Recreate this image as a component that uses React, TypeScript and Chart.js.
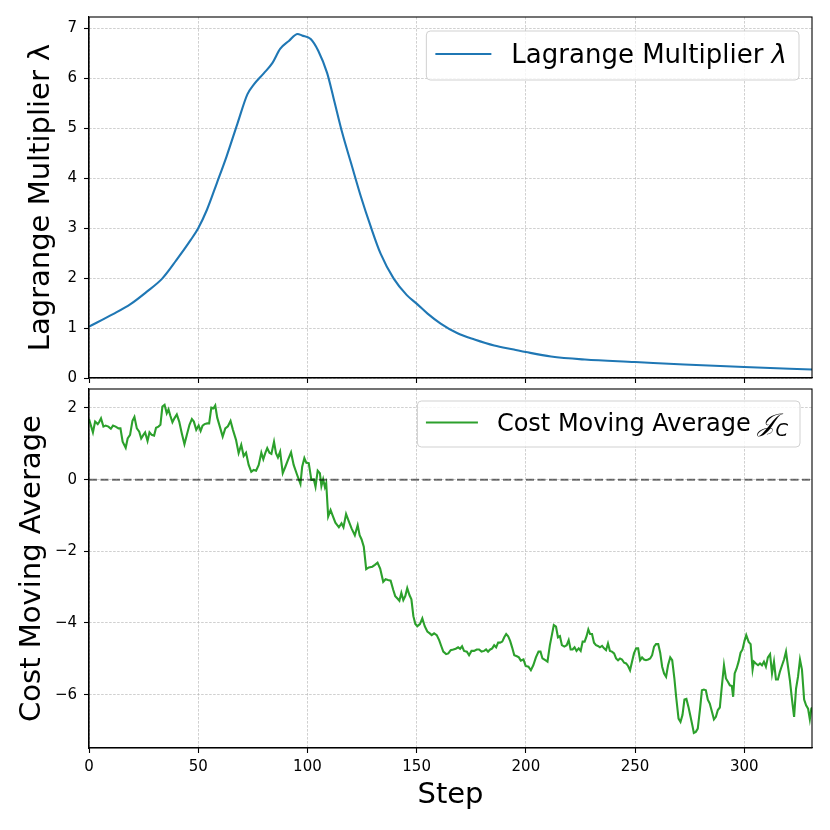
import { useEffect, useRef } from 'react';
import { Chart, registerables } from 'chart.js';

Chart.register(...registerables);

// ---- data ----
const LAMBDA_STEPS = [0, 11, 19, 26.5, 33.5, 40, 46.5, 50, 54, 58.5, 63, 68, 72.5, 75.5, 80, 84, 87.5, 91.5, 95.5, 97.5, 101.5, 105, 109, 112, 116, 120, 124.5, 129, 133.5, 139.5, 145.5, 150, 155, 161, 168.5, 176.5, 185.5, 194.5, 200, 211.5, 227, 250, 272.5, 300, 331];
const LAMBDA_VALUES = [1.03, 1.28, 1.48, 1.73, 1.99, 2.36, 2.76, 3.0, 3.37, 3.9, 4.44, 5.1, 5.68, 5.88, 6.1, 6.31, 6.59, 6.75, 6.89, 6.86, 6.79, 6.55, 6.11, 5.6, 4.9, 4.3, 3.63, 3.03, 2.49, 1.99, 1.66, 1.49, 1.29, 1.09, 0.9, 0.77, 0.65, 0.57, 0.52, 0.43, 0.37, 0.32, 0.27, 0.22, 0.17];

const COST_STEPS = [
  0, 1.8, 2.8, 4, 4.6, 5.5, 6.6, 7.6, 8.9, 10, 11, 12.2, 13.5, 14.4, 15.4, 16.8, 17.7, 18.8, 19.9, 20.8, 21.9, 23, 23.9, 24.9, 25.7, 26.8, 27.7, 28.7, 29.8, 30.7, 31.8, 32.7, 33.6, 34.6, 35.6, 36.4, 37.2, 38.2, 39.1, 40.2, 41.3, 42.5, 43.7, 44.8, 46, 47.1, 48, 49.1, 50.2, 51.1, 52, 52.9, 54.1, 55, 56, 57, 57.8, 58.7, 59.9, 61.2, 62.4, 63.6, 64.8, 65.9, 67.3,
  68.5, 69.7, 70.8, 71.9, 73.1, 74.3, 75.4, 76.5, 77.7, 78.9, 79.8, 80.7, 81.6, 82.6, 83.5, 84.7, 85.6, 86.5, 87.5, 88.7, 89.9, 91.1, 92.5, 93.7, 95.3, 96.8, 97.6, 98.6, 99.5, 100.6, 101.8, 102.9, 103.7, 104.7, 105.7, 106.4, 107.2, 108, 108.6, 109.5, 110.6, 111.6, 112.8, 114.4, 115.6, 116.5, 117.7, 119, 120.2, 121.7, 123, 123.9, 124.8, 125.8, 126.9, 128.1, 129.7, 130.9, 132.1, 133.3,
  134.7, 135.8, 136.9, 138.1, 139.3, 140.2, 141.1, 142.1, 143, 143.9, 144.8, 145.7, 146.7, 147.6, 148.5, 149.4, 150.3, 151.5, 152.6, 153.7, 154.9, 156, 156.9, 158, 159.2, 160.3, 161.3, 162.2, 163.5, 164.5, 165.6, 166.8, 167.9, 169, 169.9, 170.8, 171.7, 173, 174, 175.1, 176.3, 177.5, 178.6, 179.7, 180.9, 181.8, 182.7, 183.7, 184.6, 185.5, 186.4, 187.3, 188.2, 189.2, 190.1, 191, 191.9, 192.8, 193.7, 194.7, 195.9, 196.8, 197.7, 198.9, 199.9,
  201.2, 202.3, 203.4, 204.6, 205.8, 206.7, 207.6, 208.9, 209.9, 211, 211.9, 212.8, 213.8, 214.7, 215.6, 216.5, 217.6, 218.7, 219.6, 220.5, 221.4, 222.3, 223.2, 224.2, 225.1, 226, 226.9, 227.8, 228.6, 229.4, 230.3, 231.2, 232.1, 233, 233.9, 234.9, 235.8, 236.7, 237.6, 238.5, 239.4, 240.4, 241.3, 242.2, 243.1, 244, 245, 245.9, 246.8, 247.7, 248.6, 249.5, 250.5, 251.4, 252.3, 253.2, 254.1, 255, 256, 256.9, 257.8, 258.7, 259.6, 260.6, 261.5, 262.4, 263.3, 264.2, 265.1, 266.1, 267,
  268, 268.8, 269.9, 270.8, 271.7, 272.6, 273.5, 274.5, 275.4, 276.3, 276.9, 277.8, 278.7, 279.7, 280.6, 281.5, 282.4, 283.3, 284.2, 285.2, 286.1, 287, 287.9, 288.8, 289.7, 290.7, 291.6, 292.5, 293.4, 294.3, 294.9, 295.6, 296.5, 297.4, 298.3, 299.2, 300.1, 300.9, 302, 302.9, 303.8, 304.4, 305.3, 306.3, 307.2, 308.1, 309, 309.9, 310.8, 311.8, 312.7, 313.6, 314.5, 315.4, 316.3, 317.3, 318.2, 319.1, 320, 320.9, 321.9, 322.8, 323.7, 324.6, 325.5, 326.4, 327.4, 328.3, 329.2, 330, 330.7, 331,
];
const COST_VALUES = [
  1.69, 1.32, 1.62, 1.55, 1.6, 1.71, 1.48, 1.51, 1.48, 1.42, 1.51, 1.48, 1.43, 1.43, 1.06, 0.89, 1.15, 1.25, 1.64, 1.75, 1.43, 1.34, 1.15, 1.25, 1.32, 1.08, 1.32, 1.25, 1.23, 1.45, 1.48, 1.53, 2.04, 2.09, 1.85, 1.96, 1.79, 1.6, 1.71, 1.82, 1.62, 1.29, 0.99, 1.25, 1.53, 1.69, 1.62, 1.39, 1.51, 1.36, 1.51, 1.55, 1.57, 1.57, 2.01, 1.99, 2.07, 1.73, 1.48, 1.2, 1.43, 1.49, 1.64, 1.39, 1.11,
  0.74, 0.97, 0.66, 0.75, 0.41, 0.22, 0.27, 0.25, 0.41, 0.75, 0.57, 0.74, 0.88, 0.75, 0.72, 1.06, 0.74, 0.62, 0.78, 0.18, 0.36, 0.55, 0.76, 0.41, 0.13, -0.12, 0.36, 0.6, 0.47, 0.46, -0.01, 0.01, -0.2, 0.25, 0.18, -0.18, 0.01, -0.21, -0.1, -1.03, -0.85, -1.01, -1.2, -1.33, -1.22, -1.33, -0.96, -1.17, -1.36, -1.55, -1.27, -1.55, -1.67, -1.87, -2.5, -2.45, -2.43, -2.38, -2.32, -2.48,
  -2.85, -2.78, -2.8, -2.82, -3.08, -3.25, -3.31, -3.38, -3.16, -3.36, -3.25, -3.03, -3.22, -3.34, -3.81, -4.03, -4.09, -4.03, -3.87, -4.09, -4.24, -4.29, -4.34, -4.29, -4.34, -4.48, -4.65, -4.8, -4.87, -4.85, -4.76, -4.74, -4.72, -4.68, -4.72, -4.65, -4.78, -4.8, -4.9, -4.78, -4.78, -4.74, -4.74, -4.8, -4.78, -4.74, -4.8, -4.74, -4.71, -4.62, -4.68, -4.55, -4.55, -4.52, -4.4, -4.31, -4.37, -4.5, -4.68, -4.9, -4.93, -4.96, -5.05, -5.02, -5.2,
  -5.22, -5.32, -5.18, -4.96, -4.8, -4.8, -4.99, -5.04, -5.08, -4.62, -4.34, -4.06, -4.1, -4.4, -4.37, -4.62, -4.66, -4.62, -4.48, -4.74, -4.74, -4.68, -4.78, -4.71, -4.78, -4.52, -4.52, -4.37, -4.18, -4.31, -4.31, -4.55, -4.62, -4.64, -4.68, -4.64, -4.71, -4.76, -4.57, -4.78, -4.8, -4.85, -4.99, -5.04, -4.99, -5.02, -5.11, -5.13, -5.2, -5.32, -5.08, -4.85, -4.71, -4.71, -5.04, -4.96, -5.02, -5.04, -5.02, -4.99, -4.9, -4.66, -4.59, -4.59, -4.83, -5.22, -5.41, -5.5, -5.18, -4.96, -5.04,
  -5.55, -6.06, -6.67, -6.76, -6.57, -6.14, -6.12, -6.36, -6.62, -6.88, -7.07, -7.04, -6.95, -6.42, -5.88, -5.86, -5.88, -6.14, -6.25, -6.48, -6.69, -6.62, -6.43, -6.36, -5.78, -5.18, -5.55, -5.64, -5.74, -5.76, -6.06, -5.41, -5.27, -5.08, -4.83, -4.74, -4.5, -4.34, -4.53, -4.59, -5.3, -5.08, -5.13, -5.18, -5.13, -5.18, -5.08, -5.22, -4.96, -4.87, -5.41, -5.08, -5.58, -5.58, -5.36, -5.18, -5.02, -4.8, -5.21, -5.61, -6.17, -6.62, -5.83, -5.5, -5.02, -5.3, -6.14, -6.3, -6.39, -6.69, -6.39, -6.36,
];

const ZERO_STEPS = [0, 331];
const ZERO_VALUES = [0, 0];

const X_TICKS = [0, 50, 100, 150, 200, 250, 300];
const Y_TICKS_TOP = [0, 1, 2, 3, 4, 5, 6, 7];
const Y_TICKS_BOTTOM = [-6, -4, -2, 0, 2];

const X_MIN = 0;
const X_MAX = 331;
const Y_TOP_MIN = 0;
const Y_TOP_MAX = 7.23;
const Y_BOTTOM_MIN = -7.49;
const Y_BOTTOM_MAX = 2.53;

const TOP_LABEL = 'Lagrange Multiplier λ';
const BOTTOM_LABEL = 'Cost Moving Average';
const X_LABEL = 'Step';

// ---- styles ----
const FONT = 'DejaVu Sans';
const BLUE = '#1f77b4';
const GREEN = '#2ca02c';
const GRID_COLOR = 'rgba(176,176,176,0.75)';

Chart.defaults.font.family = FONT;

const toPoints = (xs: number[], ys: number[]) => xs.map((x, i) => ({ x, y: ys[i] }));
const fmt = (v: number) => String(v).replace('-', '\u2212');

type Part = { text: string; font: string; dy?: number };

function makeLegend(id: string, parts: Part[], offsetRight: number, offsetTop: number, height: number, padLeft: number, handle: number, gap: number) {
  return {
    id,
    afterDatasetsDraw(chart: any) {
      const { ctx, chartArea } = chart;
      const ds = chart.data.datasets[0];
      ctx.save();
      const widths = parts.map((p) => {
        ctx.font = p.font;
        return ctx.measureText(p.text).width;
      });
      const tw = widths.reduce((a, b) => a + b, 0);
      const padRight = 12;
      const boxW = padLeft + handle + gap + tw + padRight;
      const right = chartArea.right - offsetRight;
      const left = right - boxW;
      const top = chartArea.top + offsetTop;
      ctx.beginPath();
      if (ctx.roundRect) ctx.roundRect(left, top, boxW, height, 4);
      else ctx.rect(left, top, boxW, height);
      ctx.fillStyle = 'rgba(255,255,255,0.8)';
      ctx.fill();
      ctx.strokeStyle = 'rgba(204,204,204,0.9)';
      ctx.lineWidth = 1;
      ctx.stroke();
      const hy = top + height / 2 - 1.5;
      ctx.beginPath();
      ctx.moveTo(left + padLeft, hy);
      ctx.lineTo(left + padLeft + handle, hy);
      ctx.strokeStyle = ds.borderColor;
      ctx.lineWidth = ds.borderWidth;
      ctx.stroke();
      let x = left + padLeft + handle + gap;
      const base = hy + 8.5;
      ctx.fillStyle = '#000';
      ctx.textBaseline = 'alphabetic';
      ctx.textAlign = 'left';
      parts.forEach((p, i) => {
        ctx.font = p.font;
        ctx.fillText(p.text, x, base + (p.dy || 0));
        x += widths[i];
      });
      ctx.restore();
    },
  };
}

const framePlugin = {
  id: 'frame',
  afterDatasetsDraw(chart: any) {
    const { ctx, chartArea } = chart;
    const { left, top, right, bottom } = chartArea;
    ctx.save();
    ctx.strokeStyle = '#000';
    ctx.lineWidth = 1.1;
    ctx.strokeRect(left, top, right - left, bottom - top);
    ctx.restore();
  },
};

const gridOpts = {
  color: GRID_COLOR,
  lineWidth: 0.8,
  drawTicks: true,
  tickLength: 5,
  tickColor: '#000',
  tickWidth: 1.1,
  tickBorderDash: [],
};
const borderOpts = { display: true, color: '#000', width: 1.1, dash: [2.6, 1.4] };

const noPad = (s: any) => {
  s.paddingTop = 0;
  s.paddingBottom = 0;
  s.paddingLeft = 0;
  s.paddingRight = 0;
};

export default function App() {
  const topRef = useRef<HTMLCanvasElement | null>(null);
  const botRef = useRef<HTMLCanvasElement | null>(null);

  useEffect(() => {
    const topChart = new Chart(topRef.current as HTMLCanvasElement, {
      type: 'line',
      data: {
        datasets: [
          {
            label: TOP_LABEL,
            data: toPoints(LAMBDA_STEPS, LAMBDA_VALUES),
            borderColor: BLUE,
            borderWidth: 2.1,
            pointRadius: 0,
            cubicInterpolationMode: 'monotone',
            fill: false,
          },
        ],
      },
      options: {
        responsive: false,
        animation: false,
        events: [],
        layout: { padding: { top: 17, right: 18, bottom: 0, left: 0 } },
        plugins: { legend: { display: false }, tooltip: { enabled: false } },
        scales: {
          x: {
            type: 'linear',
            min: X_MIN,
            max: X_MAX,
            afterBuildTicks: (s: any) => {
              s.ticks = X_TICKS.map((v) => ({ value: v }));
            },
            ticks: { display: false },
            grid: gridOpts,
            border: borderOpts,
            afterFit: (s: any) => {
              s.height = 7;
              noPad(s);
            },
          },
          y: {
            type: 'linear',
            min: Y_TOP_MIN,
            max: Y_TOP_MAX,
            afterBuildTicks: (s: any) => {
              s.ticks = Y_TICKS_TOP.map((v) => ({ value: v }));
            },
            ticks: { font: { size: 15 }, color: '#000', padding: 7, callback: (v: any) => fmt(v) },
            grid: gridOpts,
            border: borderOpts,
            title: { display: true, text: TOP_LABEL, font: { size: 29 }, color: '#000', padding: { top: 24, bottom: 0 } },
            afterFit: (s: any) => {
              s.width = 89;
              noPad(s);
            },
          },
        },
      } as any,
      plugins: [
        framePlugin,
        makeLegend('legendTop', [
          { text: 'Lagrange Multiplier ', font: `26px "${FONT}"` },
          { text: 'λ', font: `italic 26px "${FONT}"` },
        ], 13, 14, 49, 9, 56, 20),
      ],
    } as any);

    const botChart = new Chart(botRef.current as HTMLCanvasElement, {
      type: 'line',
      data: {
        datasets: [
          {
            label: 'Cost Moving Average',
            data: toPoints(COST_STEPS, COST_VALUES),
            borderColor: GREEN,
            borderWidth: 2.1,
            pointRadius: 0,
            tension: 0,
            fill: false,
            order: 0,
          },
          {
            label: 'zero',
            data: toPoints(ZERO_STEPS, ZERO_VALUES),
            borderColor: 'rgba(0,0,0,0.55)',
            borderWidth: 2,
            borderDash: [8, 3.5],
            pointRadius: 0,
            fill: false,
            order: -1,
          },
        ],
      },
      options: {
        responsive: false,
        animation: false,
        events: [],
        layout: { padding: { top: 4, right: 18, bottom: 0, left: 0 } },
        plugins: { legend: { display: false }, tooltip: { enabled: false } },
        scales: {
          x: {
            type: 'linear',
            min: X_MIN,
            max: X_MAX,
            afterBuildTicks: (s: any) => {
              s.ticks = X_TICKS.map((v) => ({ value: v }));
            },
            ticks: { font: { size: 15 }, color: '#000', padding: 5, maxRotation: 0, callback: (v: any) => fmt(v) },
            grid: gridOpts,
            border: borderOpts,
            title: { display: true, text: X_LABEL, font: { size: 29 }, color: '#000', padding: { top: 0, bottom: 17.6 } },
            afterFit: (s: any) => {
              s.height = 82;
              noPad(s);
            },
          },
          y: {
            type: 'linear',
            min: Y_BOTTOM_MIN,
            max: Y_BOTTOM_MAX,
            afterBuildTicks: (s: any) => {
              s.ticks = Y_TICKS_BOTTOM.map((v) => ({ value: v }));
            },
            ticks: { font: { size: 15 }, color: '#000', padding: 7, callback: (v: any) => fmt(v) },
            grid: gridOpts,
            border: borderOpts,
            title: { display: true, text: BOTTOM_LABEL, font: { size: 29 }, color: '#000', padding: { top: 14.6, bottom: 0 } },
            afterFit: (s: any) => {
              s.width = 89;
              noPad(s);
            },
          },
        },
      } as any,
      plugins: [
        framePlugin,
        makeLegend('legendBottom', [
          { text: 'Cost Moving Average ', font: `24px "${FONT}"` },
          { text: '𝒥', font: `italic 25px "DejaVu Serif", "DejaVu Sans", serif` },
          { text: 'C', font: `italic 18px "${FONT}"`, dy: 5 },
        ], 12, 12, 46, 8.5, 52, 19),
      ],
    } as any);

    return () => {
      topChart.destroy();
      botChart.destroy();
    };
  }, []);

  return (
    <div style={{ position: 'absolute', left: 0, top: 0, width: 830, height: 830, background: '#fff' }}>
      <canvas ref={topRef} width={830} height={385} style={{ position: 'absolute', left: 0, top: 0 }} />
      <canvas ref={botRef} width={830} height={445} style={{ position: 'absolute', left: 0, top: 385 }} />
    </div>
  );
}
